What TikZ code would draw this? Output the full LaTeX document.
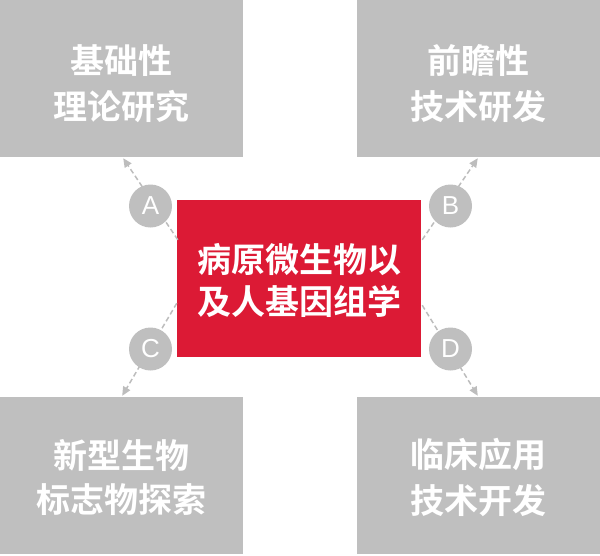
\documentclass[tikz,border=0pt]{standalone}
\usepackage{fontspec}
\newfontfamily\cjk{Noto Sans CJK SC}[BoldFont={Noto Sans CJK SC Bold}]
\newfontfamily\latinsans{Liberation Sans}
\usetikzlibrary{arrows.meta,calc}
\definecolor{boxgray}{HTML}{BFBFBF}
\definecolor{linegray}{HTML}{BDBDBD}
\definecolor{mainred}{HTML}{DC1A35}
\newcommand{\shiftdown}[2]{\raisebox{-#1}[\height][\depth]{#2}}
\tikzset{
  graybox/.style={fill=boxgray, draw=none, inner sep=0pt, minimum width=243pt, minimum height=157pt,
    text=white, align=center, font={\cjk\bfseries\fontsize{34}{47}\selectfont}},
  redbox/.style={fill=mainred, draw=none, inner sep=0pt, minimum width=244pt, minimum height=157pt,
    text=white, align=center, font={\cjk\bfseries\fontsize{34}{43}\selectfont}},
  badge/.style={circle, fill=boxgray, draw=none, minimum size=43pt, inner sep=0pt,
    text=white, font={\latinsans\fontsize{26}{26}\selectfont}},
  conn/.style={draw=linegray, line width=1.5pt, dash pattern=on 5pt off 3pt,
    -{Triangle[length=9pt,width=8pt,fill=linegray]}}
}
\begin{document}
\begin{tikzpicture}[x=1pt,y=-1pt]
\useasboundingbox (0,0) rectangle (600,555);
\node[graybox] (tl) at (121.5,78.5) {\shiftdown{5pt}{\shortstack{基础性\\[11pt]理论研究}}};
\node[graybox] (tr) at (478.5,78.5) {\shiftdown{5pt}{\shortstack{前瞻性\\[11pt]技术研发}}};
\node[graybox] (bl) at (121.5,475.5) {\shiftdown{2pt}{\shortstack{新型生物\\[10pt]标志物探索}}};
\node[graybox] (br) at (478.5,475.5) {\shiftdown{2pt}{\shortstack{临床应用\\[10pt]技术开发}}};
\node[redbox] (red) at (299,278.5) {\shiftdown{2pt}{\shortstack{病原微生物以\\[7pt]及人基因组学}}};
\coordinate (sA) at ($(red.north west)+(1,40)$);
\coordinate (sB) at ($(red.north east)+(1,40)$);
\coordinate (sC) at ($(red.south west)+(0,-54)$);
\coordinate (sD) at ($(red.south east)+(1,-52)$);
\coordinate (eA) at ($(tl.south east)+(-120,1)$);
\coordinate (eB) at ($(tr.south west)+(121,1)$);
\coordinate (eC) at ($(bl.north east)+(-121,-1)$);
\coordinate (eD) at ($(br.north west)+(121,-1)$);
\draw[conn] (sA) -- (eA);
\draw[conn] (sB) -- (eB);
\draw[conn] (sC) -- (eC);
\draw[conn] (sD) -- (eD);
\node[badge] (A) at (150.5,206) {A};
\node[badge] (B) at (450.5,206) {B};
\node[badge] (C) at (150.5,349) {C};
\node[badge] (D) at (450.5,349) {D};
\end{tikzpicture}
\end{document}
